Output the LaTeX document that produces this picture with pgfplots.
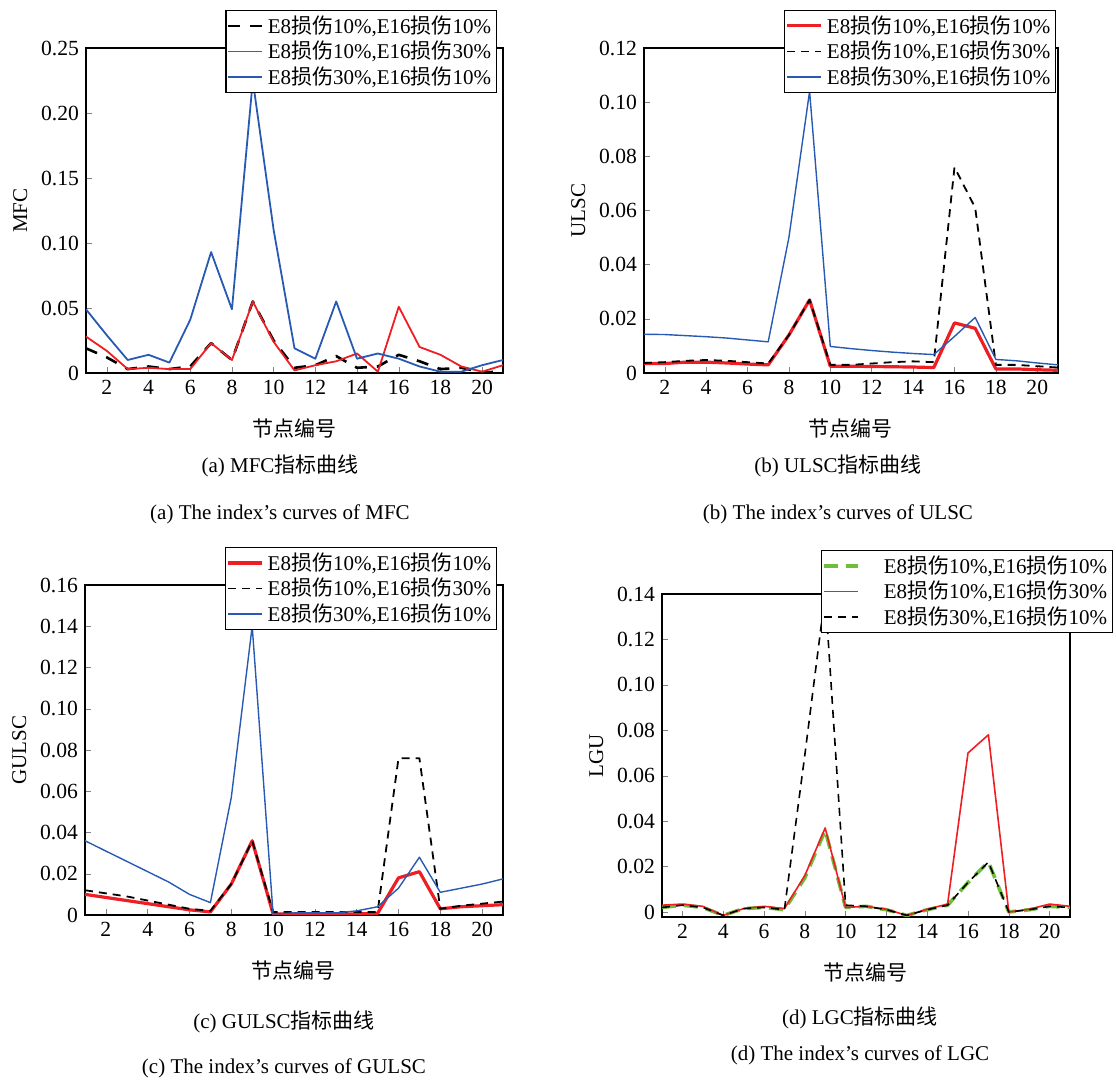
\documentclass[border=0pt]{standalone}
\usepackage{pgfplots}
\pgfplotsset{compat=1.18}
\usepackage{fontspec}
\setmainfont{Liberation Serif}
\newfontfamily\cjk{Noto Sans CJK SC}
\definecolor{myred}{RGB}{237,30,36}
\definecolor{myblue}{RGB}{40,90,180}
\definecolor{mygreen}{RGB}{110,190,60}
\newcommand{\la}{E8{\cjk 损伤}10\%,E16{\cjk 损伤}10\%}
\newcommand{\lb}{E8{\cjk 损伤}10\%,E16{\cjk 损伤}30\%}
\newcommand{\lc}{E8{\cjk 损伤}30\%,E16{\cjk 损伤}10\%}
\pgfplotsset{every axis/.style={scale only axis, xmin=1, xmax=21, xtick={2,4,...,20},
 xtick pos=bottom, ytick pos=left, tick align=inside, major tick length=3pt,
 ticklabel style={font=\fontsize{10.8}{11}\selectfont}, label style={font=\fontsize{10.5}{11}\selectfont},
 /pgf/number format/assume math mode=true,
 legend style={font=\fontsize{10.5}{10.5}\selectfont, draw=black, line width=0.6pt, inner sep=0.5pt, row sep=-1.5pt, legend cell align=left},
 every axis plot/.append style={line join=round},
 xlabel={\cjk 节点编号}, xlabel style={yshift=-5pt}, axis line style={line width=0.6pt}}}
\begin{document}
\begin{tikzpicture}
\useasboundingbox (0pt,0pt) rectangle (558pt,541.5pt);
% (a)
\begin{axis}[at={(43pt,355pt)}, anchor=south west, width=208.5pt, height=162.5pt,
 ymin=0, ymax=0.25, ytick={0,0.05,0.1,0.15,0.2,0.25}, yticklabels={0,0.05,0.10,0.15,0.20,0.25},
 ylabel={MFC}, legend style={at={(0.985,1.117)}, anchor=north east}]
\addplot[black, line width=1.3pt, dash pattern=on 6pt off 5pt] coordinates {(1,0.019)(2,0.012)(3,0.003)(4,0.005)(5,0.003)(6,0.005)(7,0.023)(8,0.010)(9,0.055)(10,0.025)(11,0.004)(12,0.006)(13,0.013)(14,0.004)(15,0.005)(16,0.014)(17,0.009)(18,0.003)(19,0.004)(20,0.0005)(21,0.001)};
\addplot[myred, line width=0.9pt] coordinates {(1,0.028)(2,0.017)(3,0.003)(4,0.004)(5,0.003)(6,0.003)(7,0.023)(8,0.010)(9,0.055)(10,0.024)(11,0.002)(12,0.006)(13,0.009)(14,0.015)(15,0.001)(16,0.051)(17,0.020)(18,0.014)(19,0.005)(20,0.001)(21,0.006)};
\addplot[myblue, line width=0.9pt] coordinates {(1,0.049)(2,0.029)(3,0.010)(4,0.014)(5,0.008)(6,0.041)(7,0.093)(8,0.049)(9,0.225)(10,0.110)(11,0.019)(12,0.011)(13,0.055)(14,0.011)(15,0.015)(16,0.011)(17,0.005)(18,0.001)(19,0.001)(20,0.006)(21,0.010)};
\legend{\la,\lb,\lc}
\end{axis}
% (b)
\begin{axis}[at={(322pt,355pt)}, anchor=south west, width=207pt, height=162.5pt,
 ymin=0, ymax=0.12, ytick={0,0.02,...,0.12}, yticklabels={0,0.02,0.04,0.06,0.08,0.10,0.12},
 ylabel={ULSC}, legend style={at={(0.995,1.117)}, anchor=north east}]
\addplot[myred, line width=1.6pt] coordinates {(1,0.0035)(2,0.0035)(3,0.004)(4,0.004)(5,0.0037)(6,0.0033)(7,0.003)(8,0.014)(9,0.027)(10,0.0025)(11,0.0025)(12,0.0024)(13,0.0023)(14,0.0022)(15,0.002)(16,0.0185)(17,0.0165)(18,0.0015)(19,0.0015)(20,0.0012)(21,0.001)};
\addplot[black, line width=0.9pt, dash pattern=on 4pt off 3pt] coordinates {(1,0.0037)(2,0.004)(3,0.0045)(4,0.0048)(5,0.0045)(6,0.004)(7,0.0035)(8,0.014)(9,0.027)(10,0.003)(11,0.003)(12,0.0035)(13,0.004)(14,0.0043)(15,0.004)(16,0.076)(17,0.061)(18,0.003)(19,0.003)(20,0.0025)(21,0.002)};
\addplot[myblue, line width=0.7pt] coordinates {(1,0.0143)(2,0.0142)(3,0.0138)(4,0.0134)(5,0.0129)(6,0.0122)(7,0.0115)(8,0.05)(9,0.104)(10,0.0098)(11,0.0090)(12,0.0083)(13,0.0077)(14,0.0072)(15,0.0068)(16,0.0135)(17,0.0205)(18,0.005)(19,0.0045)(20,0.0037)(21,0.003)};
\legend{\la,\lb,\lc}
\end{axis}
% (c)
\begin{axis}[at={(42.5pt,84pt)}, anchor=south west, width=209pt, height=165pt,
 ymin=0, ymax=0.16, ytick={0,0.02,...,0.16}, yticklabels={0,0.02,0.04,0.06,0.08,0.10,0.12,0.14,0.16},
 ylabel={GULSC}, legend style={at={(0.985,1.115)}, anchor=north east}]
\addplot[myred, line width=1.6pt] coordinates {(1,0.010)(2,0.0085)(3,0.007)(4,0.0055)(5,0.004)(6,0.0025)(7,0.0015)(8,0.015)(9,0.036)(10,0.0005)(11,0.0005)(12,0.0005)(13,0.0005)(14,0.0005)(15,0.0008)(16,0.018)(17,0.021)(18,0.003)(19,0.004)(20,0.0045)(21,0.005)};
\addplot[black, line width=0.9pt, dash pattern=on 4pt off 3pt] coordinates {(1,0.012)(2,0.0105)(3,0.009)(4,0.007)(5,0.005)(6,0.003)(7,0.002)(8,0.015)(9,0.036)(10,0.0015)(11,0.0015)(12,0.0015)(13,0.0015)(14,0.0015)(15,0.0015)(16,0.076)(17,0.076)(18,0.003)(19,0.0045)(20,0.0055)(21,0.0065)};
\addplot[myblue, line width=0.7pt] coordinates {(1,0.036)(2,0.031)(3,0.026)(4,0.021)(5,0.016)(6,0.010)(7,0.006)(8,0.057)(9,0.140)(10,0.0005)(11,0.001)(12,0.001)(13,0.001)(14,0.002)(15,0.004)(16,0.013)(17,0.028)(18,0.011)(19,0.013)(20,0.015)(21,0.0175)};
\legend{\la,\lb,\lc}
\end{axis}
% (d)
\begin{axis}[at={(331pt,83pt)}, anchor=south west, width=204pt, height=161.5pt,
 ymin=-0.0022, ymax=0.14, ytick={0,0.02,...,0.14}, yticklabels={0,0.02,0.04,0.06,0.08,0.10,0.12,0.14},
 ylabel={LGU}, legend style={at={(1.105,1.136)}, anchor=north east}]
\addplot[mygreen, line width=1.8pt, dash pattern=on 7pt off 4pt] coordinates {(1,0.002)(2,0.003)(3,0.002)(4,-0.0015)(5,0.0015)(6,0.002)(7,0.001)(8,0.015)(9,0.036)(10,0.002)(11,0.0025)(12,0.001)(13,-0.0015)(14,0.001)(15,0.003)(16,0.013)(17,0.022)(18,0.0)(19,0.001)(20,0.0025)(21,0.002)};
\addplot[myred, line width=0.8pt] coordinates {(1,0.003)(2,0.0035)(3,0.0025)(4,-0.0015)(5,0.0015)(6,0.0025)(7,0.0015)(8,0.016)(9,0.037)(10,0.002)(11,0.0025)(12,0.0012)(13,-0.0015)(14,0.0012)(15,0.0035)(16,0.070)(17,0.078)(18,0.0)(19,0.0012)(20,0.0035)(21,0.0025)};
\addplot[black, line width=0.8pt, dash pattern=on 4pt off 3pt] coordinates {(1,0.002)(2,0.003)(3,0.002)(4,-0.0015)(5,0.0015)(6,0.002)(7,0.001)(8,0.069)(9,0.140)(10,0.003)(11,0.0025)(12,0.001)(13,-0.0015)(14,0.001)(15,0.003)(16,0.013)(17,0.022)(18,0.0)(19,0.001)(20,0.0025)(21,0.002)};
\legend{\hspace{10pt}\la,\hspace{10pt}\lb,\hspace{10pt}\lc}
\end{axis}
\begin{scope}[font=\fontsize{10.5}{11}\selectfont]
\node at (140pt,308.5pt) {(a) MFC{\cjk 指标曲线}};
\node at (140pt,284.5pt) {(a) The index's curves of MFC};
\node at (419pt,308.5pt) {(b) ULSC{\cjk 指标曲线}};
\node at (419pt,284.5pt) {(b) The index's curves of ULSC};
\node at (142pt,30.5pt) {(c) GULSC{\cjk 指标曲线}};
\node at (142pt,7.5pt) {(c) The index's curves of GULSC};
\node at (430pt,32.5pt) {(d) LGC{\cjk 指标曲线}};
\node at (430pt,14pt) {(d) The index's curves of LGC};
\end{scope}
\end{tikzpicture}
\end{document}
